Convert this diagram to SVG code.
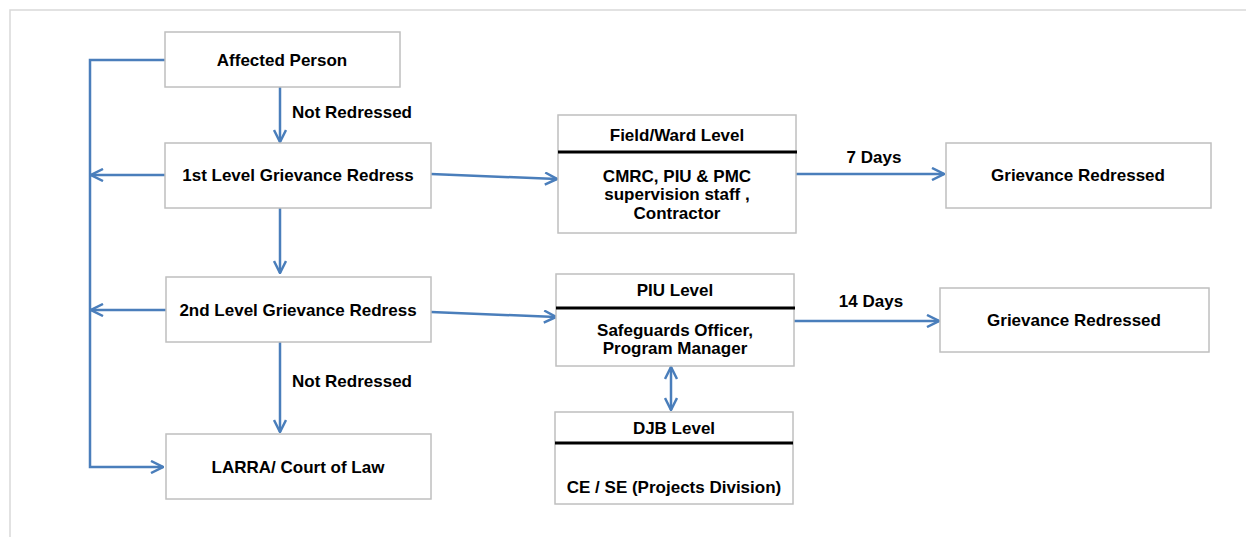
<svg xmlns="http://www.w3.org/2000/svg" width="1246" height="537" viewBox="0 0 1246 537">
  <style>
    .box { fill: #ffffff; stroke: #bfbfbf; stroke-width: 1.5; }
    .bar { stroke: #000000; stroke-width: 3; }
    .lbl { font-family: "Liberation Sans", Arial, sans-serif; font-size: 17px; font-weight: bold; fill: #000000; }
    .mid { text-anchor: middle; }
    .conn { fill: none; stroke: #4a7ebb; stroke-width: 2.5; }
    .frame { fill: none; stroke: #d9d9d9; stroke-width: 1.5; }
  </style>
  <defs>
    <marker id="arrow" viewBox="0 0 14 14" refX="13" refY="7" markerWidth="14" markerHeight="14" markerUnits="userSpaceOnUse" orient="auto-start-reverse">
      <path d="M1,1 L13,7 L1,13" fill="none" stroke="#4a7ebb" stroke-width="2.5"/>
    </marker>
  </defs>

  <rect width="1246" height="537" fill="#ffffff"/>
  <!-- page frame -->
  <path class="frame" d="M10,537 L10,10 L1246,10"/>

  <!-- connectors -->
  <g id="connectors">
    <path class="conn" d="M165,60 L90,60 L90,467 L163,467" marker-end="url(#arrow)"/>
    <path class="conn" d="M165,175 L91,175" marker-end="url(#arrow)"/>
    <path class="conn" d="M166,310 L91,310" marker-end="url(#arrow)"/>
    <path class="conn" d="M280,87 L280,142" marker-end="url(#arrow)"/>
    <path class="conn" d="M280,208 L280,273" marker-end="url(#arrow)"/>
    <path class="conn" d="M280,342 L280,432" marker-end="url(#arrow)"/>
    <path class="conn" d="M431,174 L557,179" marker-end="url(#arrow)"/>
    <path class="conn" d="M431,312 L556,317" marker-end="url(#arrow)"/>
    <path class="conn" d="M796,174 L944,174" marker-end="url(#arrow)"/>
    <path class="conn" d="M794,321 L939,321" marker-end="url(#arrow)"/>
    <path class="conn" d="M671,367 L671,410" marker-start="url(#arrow)" marker-end="url(#arrow)"/>
    <text class="lbl" x="292" y="118">Not Redressed</text>
    <text class="lbl" x="292" y="387">Not Redressed</text>
    <text class="lbl mid" x="874" y="163">7 Days</text>
    <text class="lbl mid" x="871" y="307">14 Days</text>
  </g>

  <g id="affected-person">
    <rect class="box" x="165" y="32" width="235" height="55"/>
    <text class="lbl mid" x="282" y="66">Affected Person</text>
  </g>

  <g id="first-level">
    <rect class="box" x="165" y="143" width="266" height="65"/>
    <text class="lbl mid" x="298" y="181">1st Level Grievance Redress</text>
  </g>

  <g id="second-level">
    <rect class="box" x="166" y="277" width="265" height="65"/>
    <text class="lbl mid" x="298" y="316">2nd Level Grievance Redress</text>
  </g>

  <g id="court">
    <rect class="box" x="166" y="434" width="265" height="65"/>
    <text class="lbl mid" x="298" y="473">LARRA/ Court of Law</text>
  </g>

  <g id="field-ward-level">
    <rect class="box" x="558" y="115" width="238" height="118"/>
    <line class="bar" x1="558" y1="152" x2="797" y2="152"/>
    <text class="lbl mid" x="677" y="141">Field/Ward Level</text>
    <text class="lbl mid" x="677" y="182">CMRC, PIU &amp; PMC</text>
    <text class="lbl mid" x="677" y="200">supervision staff ,</text>
    <text class="lbl mid" x="677" y="219">Contractor</text>
  </g>

  <g id="piu-level">
    <rect class="box" x="556" y="274" width="238" height="92"/>
    <line class="bar" x1="556" y1="308" x2="795" y2="308"/>
    <text class="lbl mid" x="675" y="296">PIU Level</text>
    <text class="lbl mid" x="675" y="336">Safeguards Officer,</text>
    <text class="lbl mid" x="675" y="354">Program Manager</text>
  </g>

  <g id="djb-level">
    <rect class="box" x="555" y="412" width="238" height="92"/>
    <line class="bar" x1="555" y1="443" x2="793" y2="443"/>
    <text class="lbl mid" x="674" y="434">DJB Level</text>
    <text class="lbl mid" x="674" y="493">CE / SE (Projects Division)</text>
  </g>

  <g id="redressed-7">
    <rect class="box" x="946" y="143" width="265" height="65"/>
    <text class="lbl mid" x="1078" y="181">Grievance Redressed</text>
  </g>

  <g id="redressed-14">
    <rect class="box" x="940" y="288" width="269" height="64"/>
    <text class="lbl mid" x="1074" y="326">Grievance Redressed</text>
  </g>
</svg>
